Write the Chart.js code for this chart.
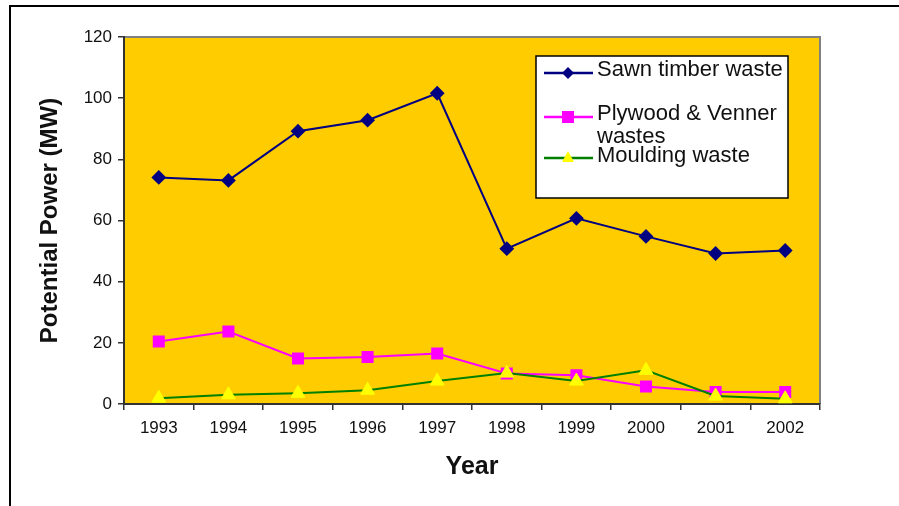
<!DOCTYPE html>
<html>
<head>
<meta charset="utf-8">
<script src="https://cdn.jsdelivr.net/npm/chart.js@4/dist/chart.umd.min.js"></script>
<style>
  html, body { margin: 0; padding: 0; background: #fff; }
  canvas { display: block; }
</style>
</head>
<body>
<canvas id="cChart" width="899" height="506"></canvas>
<script>
const years = ['1993', '1994', '1995', '1996', '1997', '1998', '1999', '2000', '2001', '2002'];
const sawn = [74.1, 73.1, 89.2, 92.8, 101.6, 50.8, 60.7, 54.8, 49.2, 50.2];
const plywood = [20.4, 23.7, 14.9, 15.4, 16.5, 10.0, 9.4, 5.7, 3.9, 3.9];
const moulding = [1.9, 3.0, 3.5, 4.5, 7.5, 10.1, 7.5, 11.0, 2.6, 1.7];
const seriesNames = ['Sawn timber waste', ['Plywood & Venner', 'wastes'], 'Moulding waste'];

const FONT = '"Liberation Sans", Arial, sans-serif';

// frame, plot background and plot border
const backdrop = {
  id: 'backdrop',
  beforeDraw(chart) {
    const ctx = chart.ctx, a = chart.chartArea;
    ctx.save();
    ctx.strokeStyle = '#000';
    ctx.lineWidth = 2;
    ctx.beginPath();
    ctx.moveTo(10, chart.height);
    ctx.lineTo(10, 6);
    ctx.lineTo(chart.width, 6);
    ctx.stroke();
    ctx.fillStyle = '#FFCC00';
    ctx.fillRect(a.left, a.top, a.right - a.left, a.bottom - a.top);
    ctx.strokeStyle = '#808080';
    ctx.lineWidth = 2;
    ctx.beginPath();
    ctx.moveTo(a.left, a.top);
    ctx.lineTo(a.right, a.top);
    ctx.lineTo(a.right, a.bottom);
    ctx.stroke();
    ctx.restore();
  }
};

function marker(ctx, style, x, y, color) {
  ctx.fillStyle = color;
  ctx.beginPath();
  if (style === 'rectRot') {
    ctx.moveTo(x - 6, y); ctx.lineTo(x, y - 6); ctx.lineTo(x + 6, y); ctx.lineTo(x, y + 6);
  } else if (style === 'rect') {
    ctx.rect(x - 6, y - 6, 12, 12);
  } else {
    ctx.moveTo(x, y - 7); ctx.lineTo(x + 6, y + 4); ctx.lineTo(x - 6, y + 4);
  }
  ctx.closePath();
  ctx.fill();
}

// legend box inside the plot
const boxLegend = {
  id: 'boxLegend',
  afterDraw(chart) {
    const ctx = chart.ctx, a = chart.chartArea;
    const bx = a.left + 412, by = a.top + 19, bw = 252, bh = 142;
    ctx.save();
    ctx.fillStyle = '#fff';
    ctx.fillRect(bx, by, bw, bh);
    ctx.strokeStyle = '#000';
    ctx.lineWidth = 1.5;
    ctx.strokeRect(bx, by, bw, bh);
    const rows = [by + 17, by + 61, by + 102];
    const texts = [[by + 14], [by + 58, by + 81], [by + 100]];
    ctx.font = '22px ' + FONT;
    ctx.textBaseline = 'middle';
    chart.data.datasets.forEach((ds, i) => {
      const y = rows[i];
      ctx.strokeStyle = ds.borderColor;
      ctx.lineWidth = 2.5;
      ctx.beginPath();
      ctx.moveTo(bx + 8, y);
      ctx.lineTo(bx + 57, y);
      ctx.stroke();
      marker(ctx, ds.pointStyle, bx + 32, y, ds.pointBackgroundColor);
      ctx.fillStyle = '#111';
      const lines = [].concat(seriesNames[i]);
      lines.forEach((t, j) => ctx.fillText(t, bx + 61, texts[i][j]));
    });
    ctx.restore();
  }
};

const data = {
  labels: years,
  datasets: [{
    label: 'Sawn timber waste',
    data: sawn,
    borderColor: '#000080',
    pointBackgroundColor: '#000080',
    pointBorderColor: '#000080',
    pointStyle: 'rectRot',
    pointRadius: 6,
    borderWidth: 2,
    order: 2
  }, {
    label: 'Plywood & Venner wastes',
    data: plywood,
    borderColor: '#FF00FF',
    pointBackgroundColor: '#FF00FF',
    pointBorderColor: '#FF00FF',
    pointStyle: 'rect',
    pointRadius: 8.5,
    pointBorderWidth: 0,
    borderWidth: 2,
    order: 1
  }, {
    label: 'Moulding waste',
    data: moulding,
    borderColor: '#008000',
    pointBackgroundColor: '#FFFF00',
    pointBorderColor: '#FFFF00',
    pointStyle: 'triangle',
    pointRadius: 8,
    pointBorderWidth: 1,
    borderWidth: 2,
    order: 0
  }]
};

const config = {
  type: 'line',
  data: data,
  plugins: [backdrop, boxLegend],
  options: {
    responsive: false,
    animation: false,
    events: [],
    layout: { padding: { top: 37, right: 79, left: 0, bottom: 0 } },
    plugins: { legend: { display: false }, tooltip: { enabled: false } },
    scales: {
      x: {
        offset: true,
        grid: { offset: true, drawOnChartArea: false, tickLength: 6, color: '#333', lineWidth: 1.5 },
        border: { color: '#333', width: 2 },
        ticks: { color: '#111', font: { family: FONT, size: 17 }, padding: 8 },
        title: { display: true, text: 'Year', color: '#111', font: { family: FONT, size: 25, weight: 'bold' }, padding: { bottom: 24 } },
        afterFit(scale) { scale.height = 102; }
      },
      y: {
        min: 0,
        max: 120,
        ticks: { stepSize: 20, color: '#111', font: { family: FONT, size: 17 }, padding: 6 },
        grid: { drawOnChartArea: false, tickLength: 6, color: '#333', lineWidth: 1.5 },
        border: { color: '#333', width: 2 },
        title: { display: true, text: 'Potential Power (MW)', color: '#111', font: { family: FONT, size: 24, weight: 'bold' }, padding: { top: 36 } },
        afterFit(scale) { scale.width = 124; }
      }
    }
  }
};

const cChart = new Chart(document.getElementById('cChart'), config);
</script>
</body>
</html>
